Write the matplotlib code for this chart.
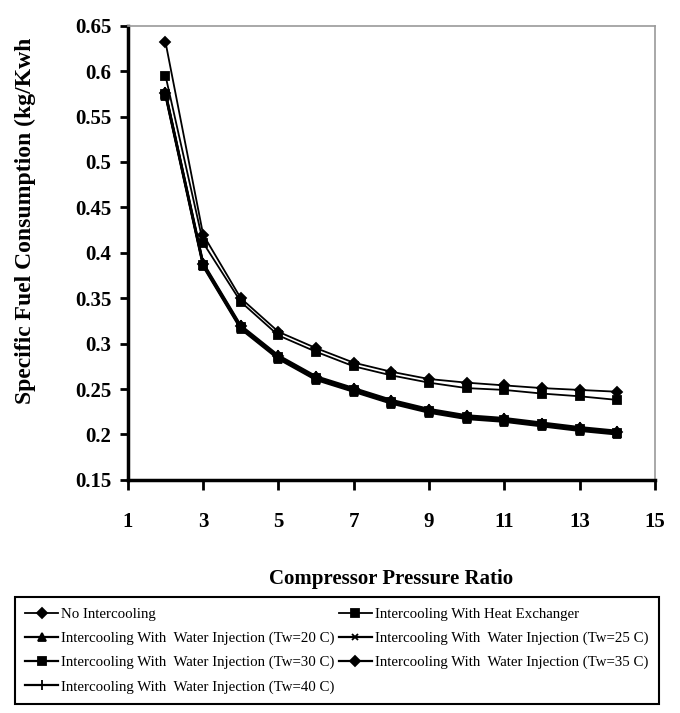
import matplotlib
matplotlib.use("Agg")
import matplotlib.pyplot as plt

# Compressor pressure ratios
pressure_ratio = [2, 3, 4, 5, 6, 7, 8, 9, 10, 11, 12, 13, 14]

# Specific fuel consumption (kg/kWh) per cycle configuration
sfc_no_intercooling = [0.632, 0.420, 0.350, 0.313, 0.295, 0.279, 0.269, 0.261, 0.257, 0.254, 0.251, 0.249, 0.247]
sfc_heat_exchanger = [0.595, 0.411, 0.346, 0.309, 0.291, 0.275, 0.265, 0.257, 0.251, 0.249, 0.245, 0.242, 0.238]
sfc_wi_20 = [0.573, 0.385, 0.316, 0.283, 0.260, 0.247, 0.234, 0.224, 0.217, 0.214, 0.209, 0.204, 0.200]
sfc_wi_25 = [0.574, 0.386, 0.317, 0.284, 0.261, 0.248, 0.235, 0.225, 0.218, 0.215, 0.210, 0.205, 0.201]
sfc_wi_30 = [0.575, 0.387, 0.318, 0.285, 0.262, 0.249, 0.236, 0.226, 0.219, 0.216, 0.211, 0.206, 0.202]
sfc_wi_35 = [0.576, 0.388, 0.319, 0.286, 0.263, 0.250, 0.237, 0.227, 0.220, 0.217, 0.212, 0.207, 0.203]
sfc_wi_40 = [0.577, 0.389, 0.320, 0.287, 0.264, 0.251, 0.238, 0.228, 0.221, 0.218, 0.213, 0.208, 0.204]

x_ticks = [1, 3, 5, 7, 9, 11, 13, 15]
y_ticks = [0.15, 0.2, 0.25, 0.3, 0.35, 0.4, 0.45, 0.5, 0.55, 0.6, 0.65]

serif = ["Liberation Serif", "DejaVu Serif"]

fig = plt.figure(figsize=(6.8, 7.13), dpi=100)
ax = fig.add_axes([0.188, 0.327, 0.775, 0.637])

series = [
    (sfc_no_intercooling, "D", 5, 1.3, "No Intercooling"),
    (sfc_heat_exchanger, "s", 6, 1.3, "Intercooling With Heat Exchanger"),
    (sfc_wi_20, "^", 6, 1.6, "Intercooling With  Water Injection (Tw=20 C)"),
    (sfc_wi_25, "x", 5, 1.6, "Intercooling With  Water Injection (Tw=25 C)"),
    (sfc_wi_30, "s", 6, 1.6, "Intercooling With  Water Injection (Tw=30 C)"),
    (sfc_wi_35, "D", 5, 1.6, "Intercooling With  Water Injection (Tw=35 C)"),
    (sfc_wi_40, "+", 7, 1.6, "Intercooling With  Water Injection (Tw=40 C)"),
]

handles = {}
for values, marker, size, lw, label in series:
    (h,) = ax.plot(pressure_ratio, values, color="black", lw=lw,
                   marker=marker, markersize=size, markeredgewidth=1.3,
                   label=label)
    handles[label] = h

ax.set_xlim(1, 15)
ax.set_ylim(0.15, 0.65)
ax.set_xticks(x_ticks)
ax.set_yticks(y_ticks)
ax.set_yticklabels([f"{v:g}" for v in y_ticks])

for side in ("left", "bottom"):
    ax.spines[side].set_linewidth(2.5)
    ax.spines[side].set_color("black")
for side in ("top", "right"):
    ax.spines[side].set_linewidth(1.2)
    ax.spines[side].set_color("#9a9a9a")

ax.tick_params(axis="y", direction="out", length=6, width=2, pad=6)
ax.tick_params(axis="x", direction="out", length=7, width=2, pad=16)
for lbl in ax.get_xticklabels() + ax.get_yticklabels():
    lbl.set_family(serif)
    lbl.set_fontweight("bold")
    lbl.set_fontsize(15)

ax.set_xlabel("Compressor Pressure Ratio", family=serif, fontweight="bold",
              fontsize=15, labelpad=27)
fig.text(0.037, 0.69, "Specific Fuel Consumption (kg/Kwh", family=serif,
         fontweight="bold", fontsize=17, rotation=90, ha="center", va="center")

order = [s[4] for s in series]
legend_order = [order[0], order[2], order[4], order[6], order[1], order[3], order[5]]
leg = fig.legend([handles[k] for k in legend_order], legend_order,
                 loc="upper left", bbox_to_anchor=(15 / 680, 1 - 597 / 713),
                 ncol=2, frameon=True, fancybox=False,
                 edgecolor="black", framealpha=1, borderaxespad=0,
                 prop={"family": serif, "size": 10.7}, handlelength=2.2,
                 handletextpad=0.2, labelspacing=0.72, borderpad=0.7,
                 columnspacing=0.3)
leg.get_frame().set_linewidth(1.5)

fig.savefig("out.png", dpi=100, facecolor="white")
